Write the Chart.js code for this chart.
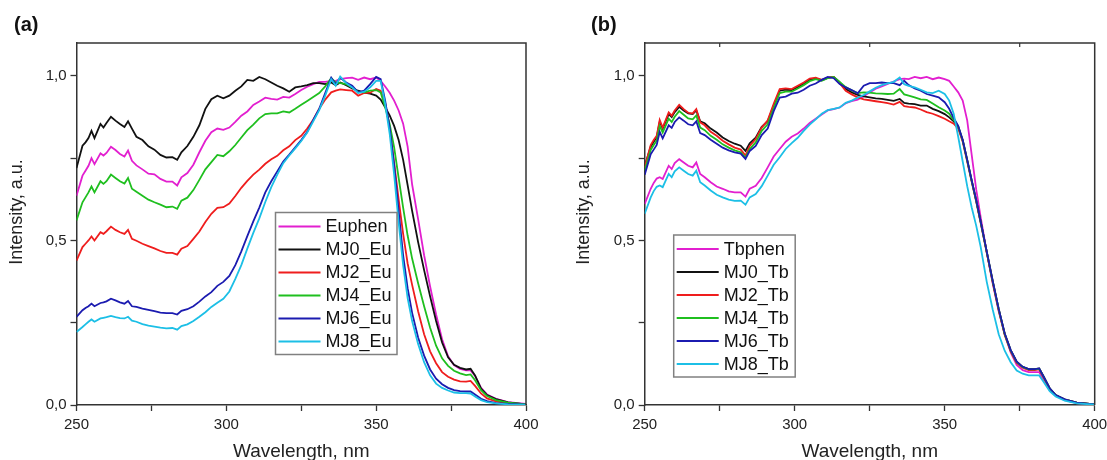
<!DOCTYPE html>
<html>
<head>
<meta charset="utf-8">
<script src="https://cdn.jsdelivr.net/npm/chart.js@4.4.1/dist/chart.umd.min.js"></script>
<style>
  html, body { margin: 0; padding: 0; background: #fff; overflow: hidden; }
  #wrap { position: relative; width: 1107px; height: 460px; overflow: hidden; }
  #wrap canvas { position: absolute; top: 0; }
  #chartA { left: 0; }
  #chartB { left: 560px; }
  .panel-label { position: absolute; font: bold 20px Arial, "Liberation Sans", sans-serif; color: #111; line-height: 1; }
</style>
</head>
<body>
<div id="wrap">
  <canvas id="chartA" width="560" height="470"></canvas>
  <canvas id="chartB" width="560" height="470"></canvas>
  <div class="panel-label" style="left:14px; top:14px">(a)</div>
  <div class="panel-label" style="left:591px; top:14px">(b)</div>
</div>
<script>
// Wavelength grid (nm), shared by every curve
const wavelengths = [
  250, 252, 253, 254, 255, 256, 258, 259, 260, 261.5,
  263, 264.5, 266, 267.2, 268.5, 270, 272, 274, 276, 278,
  280, 282, 283.6, 285, 287, 289, 291, 293, 295, 297,
  299, 301, 303, 305, 307, 309, 311, 313, 315, 317,
  319, 321, 323, 325, 327, 329, 331, 333, 335, 336.5,
  338, 340, 342, 344, 346, 348, 350, 351.5, 353, 354.5,
  356, 357.5, 359, 360.5, 362, 364, 366, 368, 370, 372,
  374, 376, 378, 380, 381.5, 383, 385, 387, 390, 394,
  400
];

// Panel (a) - Eu series
const euphen = [
  0.636, 0.697, 0.712, 0.727, 0.750, 0.732, 0.765, 0.758, 0.766, 0.785,
  0.775, 0.763, 0.755, 0.773, 0.742, 0.728, 0.716, 0.703, 0.701, 0.687,
  0.679, 0.679, 0.667, 0.692, 0.705, 0.730, 0.768, 0.803, 0.829, 0.840,
  0.836, 0.843, 0.860, 0.879, 0.892, 0.912, 0.922, 0.934, 0.930, 0.928,
  0.936, 0.934, 0.945, 0.957, 0.967, 0.975, 0.982, 0.982, 0.985, 0.985,
  0.990, 0.993, 0.995, 0.988, 0.995, 0.990, 0.995, 0.985, 0.968, 0.949,
  0.925, 0.895, 0.855, 0.785, 0.670, 0.565, 0.455, 0.360, 0.275, 0.200,
  0.148, 0.121, 0.110, 0.105, 0.105, 0.088, 0.052, 0.032, 0.019, 0.009,
  0.003
];
const mj0Eu = [
  0.720, 0.788, 0.798, 0.811, 0.833, 0.811, 0.854, 0.843, 0.857, 0.876,
  0.864, 0.854, 0.845, 0.862, 0.840, 0.815, 0.805, 0.786, 0.776, 0.760,
  0.752, 0.753, 0.745, 0.768, 0.787, 0.815, 0.850, 0.900, 0.929, 0.940,
  0.932, 0.940, 0.955, 0.968, 0.988, 0.985, 0.997, 0.990, 0.980, 0.970,
  0.962, 0.952, 0.965, 0.968, 0.972, 0.978, 0.978, 0.975, 0.980, 0.972,
  0.980, 0.972, 0.962, 0.955, 0.949, 0.946, 0.940, 0.928, 0.905, 0.880,
  0.848, 0.805, 0.745, 0.668, 0.590, 0.495, 0.410, 0.330, 0.255, 0.190,
  0.145, 0.122, 0.113, 0.108, 0.110, 0.090, 0.050, 0.030, 0.018, 0.008,
  0.002
];
const mj2Eu = [
  0.439, 0.480, 0.490, 0.500, 0.512, 0.500, 0.525, 0.520, 0.528, 0.542,
  0.532, 0.525, 0.520, 0.532, 0.505, 0.499, 0.490, 0.483, 0.476, 0.468,
  0.462, 0.462, 0.457, 0.475, 0.483, 0.505, 0.527, 0.556, 0.581, 0.599,
  0.601, 0.612, 0.635, 0.660, 0.681, 0.700, 0.715, 0.733, 0.747, 0.757,
  0.774, 0.786, 0.805, 0.818, 0.840, 0.867, 0.900, 0.928, 0.950, 0.955,
  0.959, 0.957, 0.955, 0.940, 0.948, 0.949, 0.960, 0.955, 0.918, 0.843,
  0.735, 0.625, 0.520, 0.430, 0.365, 0.285, 0.215, 0.163, 0.127, 0.100,
  0.086, 0.077, 0.072, 0.071, 0.073, 0.058, 0.035, 0.020, 0.011, 0.005,
  0.001
];
const mj4Eu = [
  0.561, 0.616, 0.631, 0.646, 0.664, 0.646, 0.680, 0.672, 0.680, 0.700,
  0.690, 0.680, 0.673, 0.690, 0.657, 0.648, 0.636, 0.624, 0.616, 0.609,
  0.601, 0.603, 0.596, 0.621, 0.630, 0.653, 0.684, 0.716, 0.738, 0.760,
  0.756, 0.771, 0.790, 0.813, 0.835, 0.852, 0.871, 0.884, 0.886, 0.886,
  0.892, 0.889, 0.900, 0.912, 0.924, 0.936, 0.948, 0.968, 0.993, 0.980,
  0.978, 0.975, 0.965, 0.952, 0.950, 0.955, 0.957, 0.950, 0.905, 0.854,
  0.783, 0.690, 0.600, 0.515, 0.445, 0.370, 0.300, 0.235, 0.180, 0.142,
  0.119, 0.104, 0.096, 0.091, 0.093, 0.075, 0.045, 0.027, 0.015, 0.007,
  0.002
];
const mj6Eu = [
  0.268, 0.288, 0.295, 0.300, 0.308, 0.300, 0.310, 0.312, 0.315, 0.323,
  0.318, 0.312, 0.308, 0.316, 0.300, 0.298, 0.293, 0.289, 0.285, 0.281,
  0.279, 0.279, 0.275, 0.286, 0.291, 0.300, 0.314, 0.330, 0.343, 0.362,
  0.374, 0.392, 0.425, 0.467, 0.513, 0.558, 0.600, 0.646, 0.680, 0.710,
  0.740, 0.761, 0.783, 0.805, 0.830, 0.866, 0.900, 0.948, 0.995, 0.975,
  0.995, 0.980, 0.970, 0.950, 0.955, 0.975, 0.997, 0.990, 0.925, 0.843,
  0.730, 0.590, 0.455, 0.355, 0.280, 0.205, 0.150, 0.108, 0.080, 0.063,
  0.052, 0.045, 0.042, 0.041, 0.041, 0.032, 0.019, 0.012, 0.006, 0.003,
  0.001
];
const mj8Eu = [
  0.222, 0.237, 0.245, 0.253, 0.260, 0.253, 0.263, 0.265, 0.267, 0.271,
  0.267, 0.264, 0.263, 0.268, 0.256, 0.253, 0.246, 0.241, 0.238, 0.235,
  0.233, 0.234, 0.229, 0.240, 0.245, 0.255, 0.268, 0.282, 0.298, 0.311,
  0.323, 0.345, 0.383, 0.425, 0.475, 0.523, 0.567, 0.617, 0.662, 0.700,
  0.735, 0.758, 0.780, 0.802, 0.828, 0.862, 0.896, 0.940, 0.990, 0.970,
  0.998, 0.978, 0.965, 0.948, 0.952, 0.965, 0.985, 0.985, 0.915, 0.825,
  0.700, 0.555, 0.425, 0.325, 0.255, 0.185, 0.130, 0.090, 0.065, 0.052,
  0.044, 0.038, 0.036, 0.036, 0.035, 0.026, 0.015, 0.009, 0.005, 0.002,
  0.001
];

// Panel (b) - Tb series
const tbphen = [
  0.611, 0.657, 0.675, 0.688, 0.692, 0.687, 0.727, 0.717, 0.735, 0.747,
  0.737, 0.727, 0.722, 0.737, 0.702, 0.692, 0.677, 0.664, 0.657, 0.649,
  0.646, 0.646, 0.633, 0.657, 0.666, 0.690, 0.722, 0.755, 0.778, 0.800,
  0.815, 0.825, 0.840, 0.857, 0.870, 0.883, 0.895, 0.899, 0.904, 0.917,
  0.923, 0.928, 0.938, 0.950, 0.961, 0.968, 0.976, 0.983, 0.990, 0.992,
  0.990, 0.997, 0.993, 0.997, 0.990, 0.995, 0.990, 0.985, 0.968, 0.950,
  0.925, 0.865, 0.760, 0.655, 0.570, 0.465, 0.370, 0.285, 0.215, 0.160,
  0.122, 0.106, 0.100, 0.100, 0.100, 0.075, 0.045, 0.028, 0.015, 0.006,
  0.002
];
const mj0Tb = [
  0.725, 0.785, 0.800, 0.813, 0.860, 0.840, 0.884, 0.875, 0.890, 0.906,
  0.895, 0.886, 0.884, 0.895, 0.862, 0.856, 0.840, 0.828, 0.813, 0.802,
  0.794, 0.788, 0.772, 0.795, 0.812, 0.845, 0.862, 0.910, 0.955, 0.958,
  0.957, 0.966, 0.976, 0.988, 0.992, 0.987, 0.994, 0.997, 0.980, 0.960,
  0.950, 0.942, 0.938, 0.935, 0.932, 0.930, 0.927, 0.924, 0.930, 0.918,
  0.916, 0.914, 0.910, 0.910, 0.900, 0.893, 0.884, 0.874, 0.862, 0.845,
  0.805, 0.745, 0.682, 0.622, 0.557, 0.467, 0.377, 0.292, 0.217, 0.167,
  0.132, 0.116, 0.109, 0.109, 0.111, 0.086, 0.051, 0.030, 0.017, 0.007,
  0.002
];
const mj2Tb = [
  0.722, 0.790, 0.805, 0.818, 0.866, 0.843, 0.889, 0.879, 0.895, 0.912,
  0.899, 0.888, 0.886, 0.899, 0.859, 0.850, 0.830, 0.818, 0.803, 0.792,
  0.782, 0.776, 0.758, 0.787, 0.808, 0.843, 0.865, 0.915, 0.960, 0.962,
  0.960, 0.970, 0.980, 0.992, 0.995, 0.988, 0.995, 0.997, 0.978, 0.955,
  0.944, 0.935, 0.929, 0.926, 0.923, 0.920, 0.917, 0.913, 0.921, 0.908,
  0.906, 0.904, 0.898, 0.890, 0.885, 0.878, 0.870, 0.862, 0.855, 0.840,
  0.800, 0.740, 0.678, 0.618, 0.553, 0.463, 0.373, 0.288, 0.213, 0.163,
  0.128, 0.113, 0.106, 0.106, 0.108, 0.083, 0.049, 0.029, 0.016, 0.007,
  0.002
];
const mj4Tb = [
  0.712, 0.775, 0.790, 0.803, 0.848, 0.828, 0.870, 0.860, 0.876, 0.893,
  0.882, 0.871, 0.868, 0.880, 0.843, 0.835, 0.818, 0.806, 0.792, 0.782,
  0.774, 0.768, 0.752, 0.778, 0.798, 0.833, 0.853, 0.902, 0.948, 0.952,
  0.952, 0.962, 0.972, 0.984, 0.990, 0.985, 0.993, 0.997, 0.982, 0.966,
  0.956, 0.948, 0.950, 0.949, 0.947, 0.946, 0.945, 0.946, 0.960, 0.944,
  0.940, 0.935, 0.929, 0.927, 0.916, 0.905, 0.895, 0.885, 0.866, 0.847,
  0.803, 0.743, 0.680, 0.620, 0.555, 0.465, 0.375, 0.290, 0.215, 0.165,
  0.130, 0.115, 0.108, 0.108, 0.110, 0.085, 0.050, 0.030, 0.016, 0.007,
  0.002
];
const mj6Tb = [
  0.700, 0.762, 0.776, 0.790, 0.830, 0.810, 0.850, 0.842, 0.860, 0.874,
  0.864, 0.853, 0.850, 0.862, 0.826, 0.820, 0.806, 0.794, 0.782, 0.774,
  0.768, 0.764, 0.748, 0.772, 0.787, 0.820, 0.840, 0.893, 0.934, 0.937,
  0.946, 0.949, 0.958, 0.970, 0.977, 0.988, 0.997, 0.993, 0.975, 0.965,
  0.957, 0.947, 0.970, 0.978, 0.978, 0.980, 0.978, 0.978, 0.972, 0.985,
  0.972, 0.962, 0.955, 0.945, 0.940, 0.935, 0.920, 0.900, 0.872, 0.848,
  0.805, 0.745, 0.682, 0.622, 0.557, 0.467, 0.377, 0.292, 0.217, 0.167,
  0.132, 0.116, 0.109, 0.109, 0.111, 0.086, 0.051, 0.030, 0.017, 0.007,
  0.002
];
const mj8Tb = [
  0.581, 0.631, 0.650, 0.663, 0.667, 0.662, 0.702, 0.692, 0.710, 0.722,
  0.712, 0.702, 0.697, 0.712, 0.677, 0.667, 0.652, 0.639, 0.631, 0.624,
  0.620, 0.621, 0.609, 0.631, 0.641, 0.665, 0.697, 0.730, 0.753, 0.778,
  0.796, 0.812, 0.833, 0.852, 0.868, 0.885, 0.896, 0.900, 0.904, 0.918,
  0.925, 0.934, 0.942, 0.953, 0.964, 0.972, 0.977, 0.982, 0.995, 0.975,
  0.970, 0.965, 0.958, 0.950, 0.948, 0.955, 0.945, 0.925, 0.885, 0.815,
  0.740, 0.665, 0.600, 0.545, 0.480, 0.375, 0.290, 0.215, 0.165, 0.130,
  0.105, 0.095, 0.090, 0.090, 0.090, 0.070, 0.042, 0.026, 0.013, 0.005,
  0.001
];

const labelsA = ['Euphen', 'MJ0_Eu', 'MJ2_Eu', 'MJ4_Eu', 'MJ6_Eu', 'MJ8_Eu'];
const labelsB = ['Tbphen', 'MJ0_Tb', 'MJ2_Tb', 'MJ4_Tb', 'MJ6_Tb', 'MJ8_Tb'];
const seriesA = [euphen, mj0Eu, mj2Eu, mj4Eu, mj6Eu, mj8Eu];
const seriesB = [tbphen, mj0Tb, mj2Tb, mj4Tb, mj6Tb, mj8Tb];
const colors = ['#e21fcf', '#111111', '#ef1d1d', '#1fbf1f', '#1b1bb0', '#1cbfe6'];

const xTickLabels = [250, 300, 350, 400];
const yTickLabels = [0, 0.5, 1.0];

const FONT = 'Arial, "Liberation Sans", sans-serif';
Chart.defaults.font.family = FONT;

// legend drawn as a framed box inside the plot area
const boxLegend = {
  id: 'boxLegend',
  afterDraw(chart, args, opts) {
    const ctx = chart.ctx;
    const area = chart.chartArea;
    const x = area.left + opts.x;
    const y = area.top + opts.y;
    const rowH = 23;
    const sets = chart.data.datasets;
    ctx.save();
    ctx.fillStyle = '#fff';
    ctx.fillRect(x, y, opts.width, opts.height);
    ctx.strokeStyle = '#808080';
    ctx.lineWidth = 1.5;
    ctx.strokeRect(x, y, opts.width, opts.height);
    ctx.font = '18px ' + FONT;
    ctx.textBaseline = 'middle';
    sets.forEach((ds, i) => {
      const cy = y + 14 + i * rowH;
      ctx.strokeStyle = ds.borderColor;
      ctx.lineWidth = 2;
      ctx.beginPath();
      ctx.moveTo(x + 3, cy);
      ctx.lineTo(x + 45, cy);
      ctx.stroke();
      ctx.fillStyle = '#111';
      ctx.fillText(ds.label, x + 50, cy + 1);
    });
    ctx.restore();
  }
};

// top and right frame lines; optional inward ticks on the top edge;
// the y title is drawn here so it can sit a little above the axis centre
const frame = {
  id: 'frame',
  afterDraw(chart, args, opts) {
    const ctx = chart.ctx;
    const a = chart.chartArea;
    const xs = chart.scales.x;
    ctx.save();
    ctx.strokeStyle = '#333';
    ctx.lineWidth = 1.5;
    ctx.beginPath();
    ctx.moveTo(a.left, a.top);
    ctx.lineTo(a.right, a.top);
    ctx.lineTo(a.right, a.bottom);
    ctx.stroke();
    if (opts.topTicks) {
      ctx.lineWidth = 1.2;
      xs.ticks.forEach(t => {
        if (xTickLabels.includes(t.value)) return;
        const px = xs.getPixelForValue(t.value);
        ctx.beginPath();
        ctx.moveTo(px, a.top);
        ctx.lineTo(px, a.top + 4);
        ctx.stroke();
      });
    }
    ctx.translate(opts.titleX, opts.titleY);
    ctx.rotate(-Math.PI / 2);
    ctx.font = '18px ' + FONT;
    ctx.fillStyle = '#222';
    ctx.textAlign = 'center';
    ctx.textBaseline = 'middle';
    ctx.fillText('Intensity, a.u.', 0, 0);
    ctx.restore();
  }
};

function makeChart(id, labels, series, geo) {
  const datasets = series.map((vals, i) => ({
    label: labels[i],
    data: wavelengths.map((w, k) => ({ x: w, y: vals[k] })),
    borderColor: colors[i],
    borderWidth: 1.8,
    pointRadius: 0,
    tension: 0,
    fill: false,
    order: series.length - 1 - i
  }));

  return new Chart(document.getElementById(id), {
    type: 'line',
    data: { datasets: datasets },
    plugins: [boxLegend, frame],
    options: {
      responsive: false,
      animation: false,
      events: [],
      layout: { padding: { left: 0, right: geo.padRight, top: 43, bottom: 0 } },
      plugins: {
        legend: { display: false },
        tooltip: { enabled: false },
        boxLegend: geo.legend,
        frame: { topTicks: geo.topTicks, titleX: geo.titleX, titleY: 212 }
      },
      scales: {
        x: {
          type: 'linear',
          min: 250,
          max: 400,
          afterFit: s => { s.height = 65; },
          ticks: {
            stepSize: 25,
            autoSkip: false,
            maxRotation: 0,
            padding: 5,
            color: '#222',
            font: { size: 15 },
            callback: v => xTickLabels.includes(v) ? String(v) : ''
          },
          grid: { drawOnChartArea: false, drawTicks: true, tickLength: 6, tickColor: '#333', tickWidth: 1.3 },
          border: { color: '#333', width: 1.5 },
          title: { display: true, text: 'Wavelength, nm', color: '#222', font: { size: 19 }, padding: { top: 0, bottom: 7 } }
        },
        y: {
          min: 0,
          max: 1.1,
          afterFit: s => { s.width = geo.yWidth; },
          ticks: {
            stepSize: 0.25,
            includeBounds: false,
            padding: 4,
            color: '#222',
            font: { size: 15 },
            callback: v => yTickLabels.some(t => Math.abs(t - v) < 1e-9) ? v.toFixed(1).replace('.', ',') : ''
          },
          grid: { drawOnChartArea: false, drawTicks: true, tickLength: 6, tickColor: '#333', tickWidth: 1.3 },
          border: { color: '#333', width: 1.5 }
        }
      }
    }
  });
}

makeChart('chartA', labelsA, seriesA, {
  padRight: 34, yWidth: 76.5, titleX: 17, topTicks: false,
  legend: { x: 199, y: 169.5, width: 121.5, height: 142 }
});
makeChart('chartB', labelsB, seriesB, {
  padRight: 25.3, yWidth: 84.7, titleX: 24.5, topTicks: true,
  legend: { x: 29, y: 192, width: 121.5, height: 142 }
});
</script>
</body>
</html>
